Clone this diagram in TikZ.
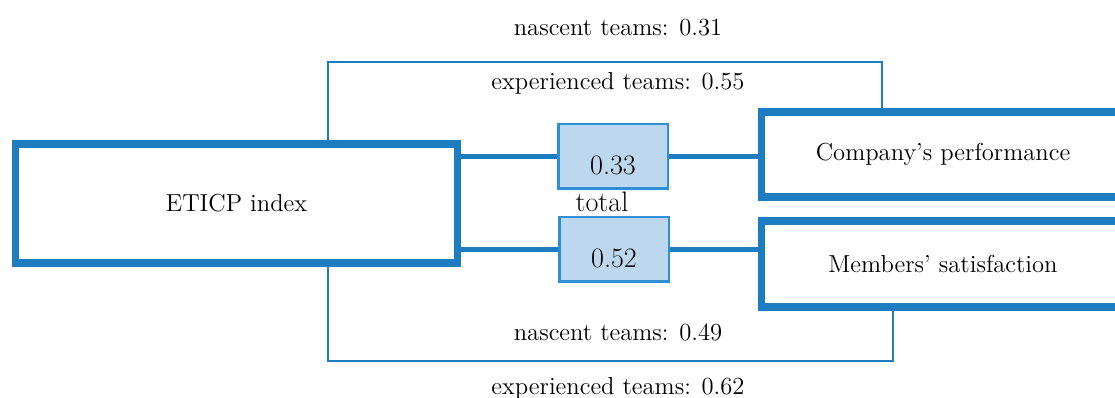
\documentclass[tikz,border=0pt]{standalone}
\usepackage{tikz}
\usetikzlibrary{positioning}
\definecolor{darkblue}{RGB}{30,125,192}
\definecolor{midblue}{RGB}{46,143,214}
\definecolor{paleblue}{RGB}{189,215,238}

\begin{document}
\begin{tikzpicture}[x=0.02cm, y=-0.02cm,
        bigbox/.style={draw=darkblue, line width=4pt, fill=white,
            font=\fontsize{14}{16}\selectfont},
        valbox/.style={draw=midblue, line width=1.7pt, fill=paleblue,
            minimum width=2.2cm, minimum height=1.3cm,
            text height=20pt, text depth=0pt,
            font=\fontsize{16}{18}\selectfont},
        link/.style={darkblue, line width=2.85pt},
        pathline/.style={darkblue, line width=1.1pt},
        lbl/.style={font=\fontsize{14}{16}\selectfont}]
            \useasboundingbox (0,0) rectangle (1115,398);
            \clip (0,0) rectangle (1115,398);

            % outcome and predictor boxes
            \node[bigbox, minimum width=8.86cm, minimum height=2.38cm]
                (eticp) at (236.5,203.5) {ETICP index};
            \node[bigbox, minimum width=7.28cm, minimum height=1.7cm]
                (perf) at (943,154.5) {Company's performance};
            \node[bigbox, minimum width=7.28cm, minimum height=1.72cm]
                (satis) at (943,264) {Members' satisfaction};

            % total effects
            \node[valbox] (tot1) at (613,156.5) {0.33};
            \node[valbox] (tot2) at (614,249.5) {0.52};
            \node[font=\fontsize{16}{18}\selectfont] (total) at (602,202) {total};

            \draw[link] (eticp.east |- tot1) -- (tot1.west);
            \draw[link] (tot1.east) -- (perf.west |- tot1.east);
            \draw[link] (eticp.east |- tot2) -- (tot2.west);
            \draw[link] (tot2.east) -- (satis.west |- tot2.east);

            % group paths
            \coordinate (tl) at (328,62);
            \coordinate (tr) at (882,62);
            \coordinate (bl) at (328,361);
            \coordinate (br) at (893,361);
            \draw[pathline] (eticp.north -| tl) |- (tr) -- (perf.north -| tr);
            \draw[pathline] (eticp.south -| bl) |- (br) -- (satis.south -| br);

            \node[lbl] (nasc1) at (618,28) {nascent teams: 0.31};
            \node[lbl] (exp1) at (618,83) {experienced teams: 0.55};
            \node[lbl] (nasc2) at (618,332) {nascent teams: 0.49};
            \node[lbl] (exp2) at (618,388) {experienced teams: 0.62};

        \end{tikzpicture}
\end{document}
